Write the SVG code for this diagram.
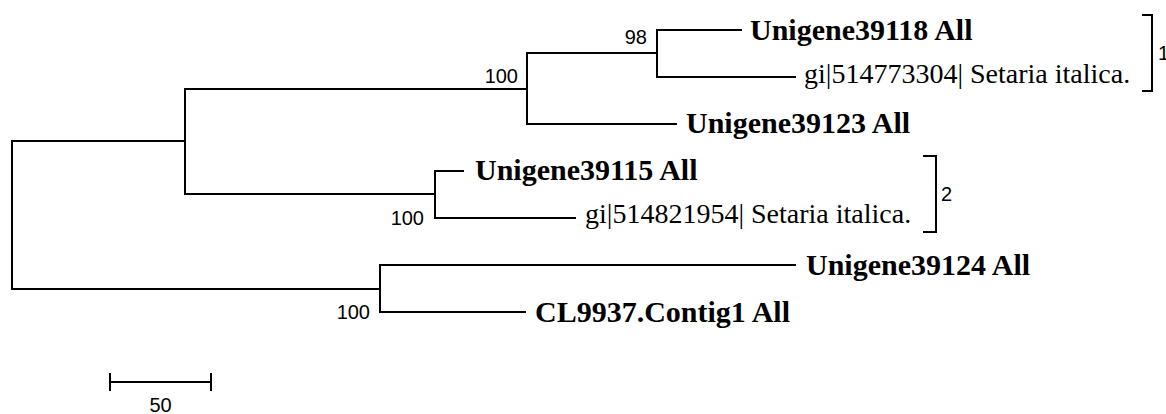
<svg xmlns="http://www.w3.org/2000/svg" width="1166" height="414" viewBox="0 0 1166 414">
<style>
.br{fill:none;stroke:#000;stroke-width:2;stroke-linecap:square}
.bold{font-family:"Liberation Serif","Times New Roman",serif;font-weight:bold;font-size:30px;fill:#000}
.reg{font-family:"Liberation Serif","Times New Roman",serif;font-size:28px;fill:#000}
.num{font-family:"Liberation Sans",Arial,sans-serif;font-size:20px;fill:#000}
</style>
<rect width="1166" height="414" fill="#fff"/>
<g id="connectors" class="br">
<path d="M185,141 H12 V289 H380"/>
<path d="M527,89 H185 V194 H435"/>
<path d="M657,53 H527 V124 H676"/>
<path d="M741,30 H657 V77 H795"/>
<path d="M463,171 H435 V218 H575"/>
<path d="M795,265 H380 V312 H525"/>
</g>
<g id="leaf-unigene39118"><text class="bold" x="750" y="40">Unigene39118 All</text></g>
<g id="leaf-gi514773304"><text class="reg" x="804" y="83">gi|514773304| Setaria italica.</text></g>
<g id="leaf-unigene39123"><text class="bold" x="686" y="133">Unigene39123 All</text></g>
<g id="leaf-unigene39115"><text class="bold" x="475" y="180">Unigene39115 All</text></g>
<g id="leaf-gi514821954"><text class="reg" x="585" y="223">gi|514821954| Setaria italica.</text></g>
<g id="leaf-unigene39124"><text class="bold" x="806" y="275">Unigene39124 All</text></g>
<g id="leaf-cl9937"><text class="bold" x="535" y="322">CL9937.Contig1 All</text></g>
<g id="bootstrap">
<text class="num" x="647" y="44" text-anchor="end">98</text>
<text class="num" x="518" y="83" text-anchor="end">100</text>
<text class="num" x="424" y="225" text-anchor="end">100</text>
<text class="num" x="370" y="319" text-anchor="end">100</text>
</g>
<g id="group-1">
<path class="br" d="M1143,15 H1152 V91 H1143"/>
<text class="num" x="1158" y="60">1</text>
</g>
<g id="group-2">
<path class="br" d="M924,156 H936 V232 H924"/>
<text class="num" x="941" y="201">2</text>
</g>
<g id="scale-bar">
<path class="br" d="M110,382 H211 M110,374 V390 M211,374 V390"/>
<text class="num" x="160.5" y="412" text-anchor="middle">50</text>
</g>
</svg>
